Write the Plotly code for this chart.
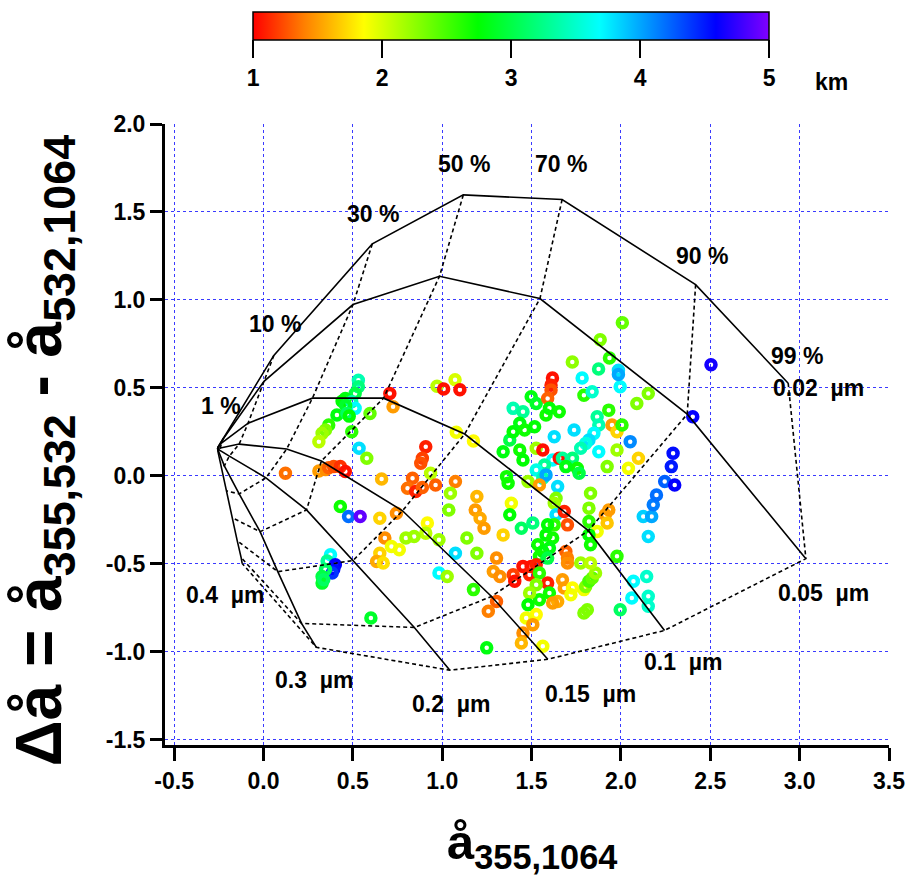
import plotly.graph_objects as go

# ---------------- framework (fine-mode radius curves / fine-mode fraction) ----------------
radius_labels = ["0.02  µm", "0.05  µm", "0.1  µm", "0.15  µm", "0.2  µm", "0.3  µm", "0.4  µm"]
fraction_labels = ["1 %", "10 %", "30 %", "50 %", "70 %", "90 %", "99 %"]
coarse_x = -0.257
coarse_y = 0.159

# points at 1,10,30,50,70,90,99 % for each fine-mode radius
r002_x = [-0.224, 0.058, 0.609, 1.118, 1.671, 2.418, 2.936]
r002_y = [0.215, 0.685, 1.319, 1.597, 1.571, 1.087, 0.527]
r005_x = [-0.230, 0.003, 0.501, 0.985, 1.547, 2.371, 3.035]
r005_y = [0.204, 0.538, 0.974, 1.135, 1.008, 0.351, -0.470]
r010_x = [-0.235, -0.086, 0.274, 0.672, 1.126, 1.818, 2.244]
r010_y = [0.187, 0.300, 0.442, 0.442, 0.238, -0.311, -0.878]
r015_x = [-0.241, -0.136, 0.130, 0.324, 0.778, 1.276, 1.591]
r015_y = [0.159, 0.181, 0.153, 0.085, -0.198, -0.685, -1.042]
r020_x = [-0.246, -0.191, 0.014, 0.241, 0.501, 0.844, 1.043]
r020_y = [0.147, 0.113, -0.011, -0.193, -0.481, -0.861, -1.104]
r030_x = [-0.252, -0.219, -0.136, -0.019, 0.080, 0.213, 0.296]
r030_y = [0.142, 0.057, -0.102, -0.317, -0.544, -0.838, -0.974]
r040_x = [-0.254, -0.241, -0.208, -0.174, -0.147, -0.125, -0.119]
r040_y = [0.136, 0.074, -0.085, -0.238, -0.368, -0.464, -0.498]

# label positions (data coords)
frac_lab_x = [-0.235, 0.064, 0.612, 1.121, 1.663, 2.454, 2.985]
frac_lab_y = [0.396, 0.861, 1.489, 1.772, 1.772, 1.251, 0.679]
rad_lab_x = [3.105, 3.135, 2.345, 1.830, 1.050, 0.285, -0.215]
rad_lab_y = [0.498, -0.663, -1.059, -1.240, -1.297, -1.161, -0.674]

# ---------------- measurements ----------------
ang_x = [
 0.531,0.531,0.513,0.458,0.440,0.494,0.513,0.460,0.411,0.467,0.480,0.365,0.347,0.328,0.310,0.494,0.596,0.535,0.578,0.707,
 0.725,0.123,0.310,0.347,0.365,0.393,0.430,0.458,0.661,0.430,0.476,0.541,0.651,0.744,0.679,0.651,0.716,0.760,0.633,0.670,
 0.375,0.356,0.402,0.393,0.384,0.347,0.328,0.328,0.337,0.601,
 0.971,1.008,1.072,1.099,1.079,1.175,0.908,0.889,0.880,0.935,0.834,0.806,0.852,0.889,0.963,1.074,1.046,1.037,1.194,1.185,
 1.212,1.234,1.341,1.387,1.378,1.443,1.507,1.360,1.369,1.480,1.341,1.378,1.397,1.397,1.452,1.498,1.526,1.434,1.461,1.517,
 1.434,1.452,1.526,1.563,1.617,1.609,1.609,1.590,1.581,1.600,1.655,1.627,1.618,1.572,1.526,1.563,1.581,1.544,1.655,1.646,
 1.637,1.627,1.637,1.683,1.701,1.627,1.590,1.581,1.618,1.535,1.563,1.600,1.544,1.590,1.692,1.701,1.701,1.452,1.498,1.526,
 1.397,1.406,1.489,1.544,1.304,1.286,1.323,1.304,1.258,1.175,1.249,1.194,1.138,1.074,0.982,1.028,0.982,0.917,0.908,0.843,
 0.797,1.590,1.600,1.544,1.526,1.489,1.480,1.526,1.470,1.507,1.452,1.443,1.563,1.673,1.683,1.646,1.618,1.729,1.720,
 1.793,1.803,1.821,1.840,1.858,1.775,1.830,1.793,1.812,1.793,1.839,1.867,1.876,1.849,1.821,1.932,1.996,2.089,2.153,1.950,
 1.978,2.006,2.052,1.978,1.923,2.042,2.098,1.876,1.803,1.775,1.729,1.673,1.756,1.766,1.692,1.738,1.830,1.821,1.932,1.913,
 1.923,1.867,1.821,1.821,1.830,1.978,1.996,2.061,2.153,2.153,2.144,2.070,2.153,2.125,2.172,2.181,2.199,2.245,2.301,2.282,
 2.292,2.402,
 2.008,1.884,1.728,1.936,1.875,1.783,1.986,1.986,2.504,
]
ang_dy = [
 0.544,0.507,0.469,0.440,0.425,0.422,0.384,0.400,0.346,0.355,0.340,0.289,0.261,0.242,0.195,0.251,0.355,0.157,0.100,0.469,
 0.393,0.015,0.028,0.036,0.047,0.053,0.053,0.025,-0.017,-0.174,-0.231,-0.231,-0.240,-0.212,-0.353,-0.439,-0.401,-0.420,-0.486,-0.495,
 -0.448,-0.484,-0.505,-0.532,-0.551,-0.532,-0.571,-0.609,-0.590,-0.807,
 0.510,0.494,0.547,0.490,0.248,0.198,0.166,0.100,0.072,0.015,-0.013,-0.070,-0.089,-0.066,-0.051,-0.032,-0.098,-0.193,-0.117,-0.193,
 -0.240,-0.297,-0.335,-0.155,-0.221,-0.297,-0.268,-0.004,-0.042,-0.032,0.138,0.204,0.251,0.384,0.365,0.450,0.412,0.299,0.261,0.280,
 0.147,0.091,0.157,0.147,0.557,0.516,0.488,0.440,0.346,0.384,0.365,0.223,0.091,0.062,0.034,-0.013,0.006,-0.051,0.100,-0.060,
 -0.127,-0.155,-0.221,-0.202,-0.278,-0.278,-0.278,-0.335,-0.353,-0.391,-0.429,-0.410,-0.457,-0.467,-0.429,-0.467,-0.495,-0.514,-0.514,-0.505,
 -0.561,-0.599,-0.561,-0.552,-0.467,-0.543,-0.571,-0.713,-0.769,-0.646,-0.977,-0.439,-0.353,-0.439,-0.552,-0.571,-0.363,-0.268,-0.325,-0.344,
 -0.353,-0.609,-0.665,-0.703,-0.618,-0.665,-0.732,-0.788,-0.807,-0.845,-0.892,-0.949,-0.968,-0.590,-0.637,-0.713,-0.722,-0.637,-0.675,
 -0.646,-0.628,-0.599,-0.580,-0.552,-0.495,-0.495,-0.779,-0.760,0.459,0.478,0.336,0.289,0.242,0.204,0.374,0.507,0.412,0.469,0.289,
 0.251,0.289,0.195,0.147,0.053,0.043,0.100,0.138,0.185,0.157,0.100,0.100,0.043,0.015,0.053,0.261,-0.098,-0.183,-0.193,-0.221,
 -0.268,-0.316,-0.259,-0.335,-0.391,-0.457,-0.760,-0.694,-0.741,-0.684,-0.571,-0.599,-0.344,-0.231,-0.231,-0.164,-0.108,-0.032,-0.051,0.053,
 0.129,0.336,
 0.870,0.774,0.647,0.670,0.608,0.557,0.600,0.576,0.632,
]
altitude_km = [
 3.4,3.2,3.0,2.8,2.75,3.4,3.7,2.9,2.8,3.1,2.75,2.6,2.3,2.2,2.1,2.6,2.4,3.8,2.3,1.05,
 1.5,1.35,1.5,1.45,1.3,1.25,1.15,1.05,1.6,2.7,4.2,4.9,1.7,1.45,1.45,1.7,1.9,1.9,1.55,1.75,
 3.7,3.3,4.6,4.55,4.4,3.1,3.0,2.9,3.1,2.9,
 2.1,1.05,2.0,1.05,1.9,1.85,1.1,1.2,1.25,2.1,1.3,1.35,1.1,1.3,1.3,1.4,2.2,2.3,1.6,1.5,
 1.55,1.5,1.7,1.9,2.75,3.1,3.2,2.7,2.7,2.2,2.8,3.0,2.75,3.4,3.3,2.8,2.9,2.8,2.7,2.75,
 2.7,2.75,2.2,1.05,1.05,1.1,1.25,1.3,2.7,2.75,2.7,3.8,3.7,3.3,3.6,3.4,4.0,1.5,1.05,3.8,
 2.3,2.2,3.8,1.1,1.25,2.6,2.75,2.75,2.7,2.7,2.75,2.8,2.7,3.0,1.3,1.4,1.45,1.05,1.05,1.1,
 1.2,1.05,1.1,2.6,1.45,1.5,1.45,1.3,1.4,2.6,2.8,2.3,2.3,3.8,3.7,2.2,2.2,1.85,2.1,2.2,
 2.2,1.1,2.7,2.7,2.3,2.2,2.75,1.85,1.9,1.5,1.45,1.6,1.9,1.5,1.5,1.55,1.5,1.85,1.9,
 1.9,2.3,2.5,2.4,2.2,2.2,2.1,2.3,2.3,2.6,3.5,3.3,3.4,3.7,3.8,2.6,3.7,2.3,2.3,1.5,
 1.7,2.6,4.1,2.2,2.3,1.9,1.7,3.7,3.6,3.4,3.2,3.3,2.7,3.0,2.8,3.8,2.3,2.3,1.5,1.5,
 1.65,1.9,2.6,2.75,2.7,2.6,3.1,3.7,3.5,3.5,3.5,3.7,3.8,3.85,4.0,4.15,4.2,4.25,4.6,4.5,
 4.55,4.6,
 2.4,2.3,2.25,2.6,3.2,3.7,3.8,4.0,4.65,
]

x_ticks = [-0.5, 0.0, 0.5, 1.0, 1.5, 2.0, 2.5, 3.0, 3.5]
y_ticks = [-1.5, -1.0, -0.5, 0.0, 0.5, 1.0, 1.5, 2.0]
cbar_ticks = [1, 2, 3, 4, 5]
x_tick_text = ["<b>%.1f</b>" % v for v in x_ticks]
y_tick_text = ["<b>%.1f</b>" % v for v in y_ticks]
cbar_tick_text = ["<b>%d</b>" % v for v in cbar_ticks]

rainbow = [[0.0, "#ff0000"], [0.10, "#ff8000"], [0.215, "#ffff00"], [0.436, "#00ff00"],
           [0.672, "#00ffff"], [0.897, "#0000ff"], [1.0, "#8000ff"]]

FONT = "Liberation Sans, Arial, Helvetica, sans-serif"
LABEL_SIZE = 23

fig = go.Figure()

# measurements
fig.add_trace(go.Scatter(
    x=ang_x, y=ang_dy, mode="markers", showlegend=False, hoverinfo="skip",
    marker=dict(symbol="circle-open", size=9, color=altitude_km, colorscale=rainbow,
                cmin=1, cmax=5, line=dict(width=4.5),
                colorbar=dict(orientation="h", x=0.4781, xanchor="center", y=1.1798, yanchor="top",
                              len=516, lenmode="pixels", thickness=28, thicknessmode="pixels",
                              xpad=0, ypad=0, outlinewidth=1.5, outlinecolor="black",
                              tickvals=cbar_ticks, ticktext=cbar_tick_text, ticks="outside",
                              ticklen=18, tickwidth=2, tickcolor="black",
                              tickfont=dict(family=FONT, size=LABEL_SIZE, color="black"))),
))

radius_x = [r002_x, r005_x, r010_x, r015_x, r020_x, r030_x, r040_x]
radius_y = [r002_y, r005_y, r010_y, r015_y, r020_y, r030_y, r040_y]

# constant radius curves (solid)
for rx, ry in zip(radius_x, radius_y):
    fig.add_trace(go.Scatter(x=[coarse_x] + rx, y=[coarse_y] + ry, mode="lines",
                             line=dict(color="black", width=1.6), showlegend=False, hoverinfo="skip"))
# constant fraction curves (dashed)
for k in range(len(fraction_labels)):
    fig.add_trace(go.Scatter(x=[rx[k] for rx in radius_x], y=[ry[k] for ry in radius_y], mode="lines",
                             line=dict(color="black", width=1.6, dash="4px,3px"),
                             showlegend=False, hoverinfo="skip"))

ann = []
for t, ax_, ay_ in zip(fraction_labels, frac_lab_x, frac_lab_y):
    ann.append(dict(x=ax_, y=ay_, xref="x", yref="y", text="<b>%s</b>" % t, showarrow=False,
                    xanchor="center", yanchor="middle",
                    font=dict(family=FONT, size=LABEL_SIZE, color="black")))
for t, ax_, ay_ in zip(radius_labels, rad_lab_x, rad_lab_y):
    ann.append(dict(x=ax_, y=ay_, xref="x", yref="y", text="<b>%s</b>" % t, showarrow=False,
                    xanchor="center", yanchor="middle",
                    font=dict(family=FONT, size=LABEL_SIZE, color="black")))
ann.append(dict(x=0.92, y=1.0674, xref="paper", yref="paper", text="<b>km</b>", showarrow=False,
                xanchor="center", yanchor="middle",
                font=dict(family=FONT, size=LABEL_SIZE, color="black")))
ann.append(dict(x=0.507, y=-0.162, xref="paper", yref="paper", text="<b>å<sub>355,1064</sub></b>",
                showarrow=False, xanchor="center", yanchor="middle",
                font=dict(family=FONT, size=49, color="black")))
ann.append(dict(x=-0.168, y=0.4735, xref="paper", yref="paper",
                text="<b>Δå = å<sub>355,532</sub> - å<sub>532,1064</sub></b>", textangle=-90,
                showarrow=False, xanchor="center", yanchor="middle",
                font=dict(family=FONT, size=64, color="black")))

axis_common = dict(showgrid=True, gridcolor="#3a3aff", griddash="dot", gridwidth=1,
                   showline=True, linecolor="black", linewidth=3, ticks="outside",
                   tickwidth=3, tickcolor="black", zeroline=False,
                   tickfont=dict(family=FONT, size=LABEL_SIZE, color="black"))

fig.update_layout(
    width=917, height=878, margin=dict(l=165, r=20, t=122, b=133),
    paper_bgcolor="white", plot_bgcolor="white", annotations=ann,
    xaxis=dict(range=[-0.551, 3.5], tickvals=x_ticks, ticktext=x_tick_text, ticklen=13, **axis_common),
    yaxis=dict(range=[-1.529, 2.0], tickvals=y_ticks, ticktext=y_tick_text, ticklen=12, **axis_common),
)

fig.write_html("out.html")
